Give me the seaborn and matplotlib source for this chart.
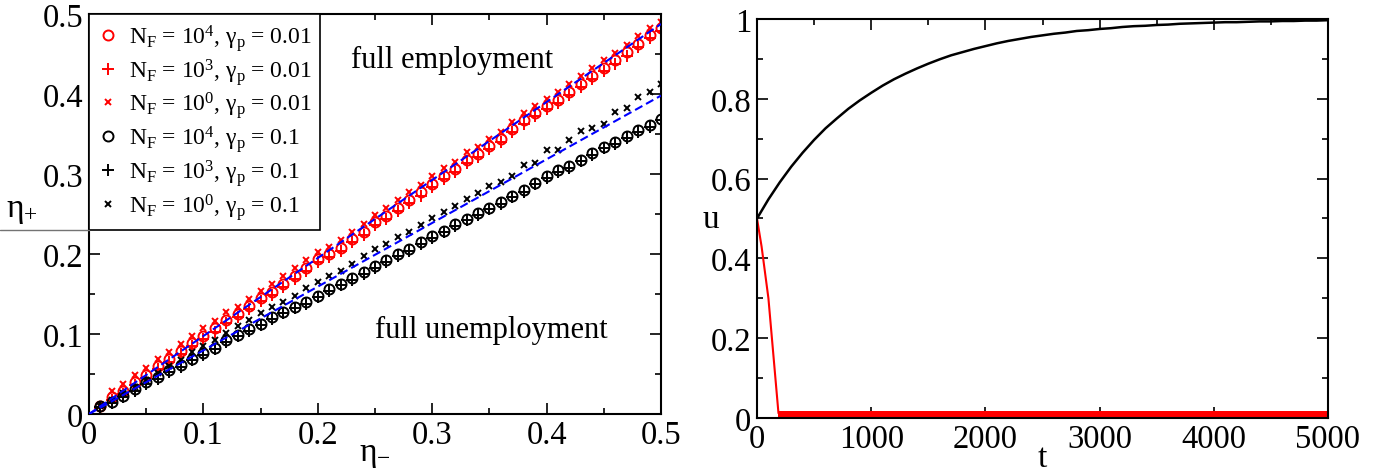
import matplotlib
matplotlib.use("Agg")
import matplotlib.pyplot as plt
import seaborn as sns
from matplotlib.ticker import MultipleLocator, FuncFormatter
from matplotlib.lines import Line2D

# left panel: eta_+ vs eta_-
eta_minus = [0.01, 0.02, 0.03, 0.04, 0.05, 0.06, 0.07, 0.08, 0.09, 0.10,
             0.11, 0.12, 0.13, 0.14, 0.15, 0.16, 0.17, 0.18, 0.19, 0.20,
             0.21, 0.22, 0.23, 0.24, 0.25, 0.26, 0.27, 0.28, 0.29, 0.30,
             0.31, 0.32, 0.33, 0.34, 0.35, 0.36, 0.37, 0.38, 0.39, 0.40,
             0.41, 0.42, 0.43, 0.44, 0.45, 0.46, 0.47, 0.48, 0.49, 0.50]

red_circle = [0.010, 0.021, 0.029, 0.040, 0.049, 0.060, 0.069, 0.079, 0.089, 0.098,
              0.107, 0.118, 0.125, 0.135, 0.145, 0.153, 0.163, 0.173, 0.183, 0.194,
              0.200, 0.208, 0.219, 0.228, 0.240, 0.248, 0.258, 0.268, 0.277, 0.288,
              0.298, 0.306, 0.318, 0.325, 0.335, 0.344, 0.356, 0.367, 0.376, 0.385,
              0.393, 0.403, 0.413, 0.423, 0.433, 0.442, 0.452, 0.463, 0.474, 0.482]
red_plus = [0.007, 0.017, 0.025, 0.036, 0.045, 0.056, 0.065, 0.075, 0.085, 0.094,
            0.103, 0.114, 0.121, 0.131, 0.141, 0.149, 0.159, 0.169, 0.179, 0.190,
            0.196, 0.204, 0.215, 0.224, 0.236, 0.244, 0.254, 0.264, 0.273, 0.284,
            0.294, 0.302, 0.314, 0.321, 0.331, 0.340, 0.352, 0.363, 0.372, 0.381,
            0.389, 0.399, 0.409, 0.419, 0.429, 0.438, 0.448, 0.459, 0.470, 0.479]
red_cross = [0.011, 0.029, 0.038, 0.049, 0.058, 0.069, 0.078, 0.088, 0.098, 0.107,
             0.116, 0.127, 0.134, 0.144, 0.154, 0.162, 0.172, 0.182, 0.192, 0.203,
             0.209, 0.217, 0.228, 0.237, 0.249, 0.257, 0.267, 0.277, 0.286, 0.297,
             0.307, 0.315, 0.327, 0.334, 0.344, 0.353, 0.365, 0.376, 0.385, 0.394,
             0.402, 0.412, 0.422, 0.432, 0.442, 0.451, 0.461, 0.472, 0.483, 0.490]

black_circle = [0.010, 0.015, 0.023, 0.031, 0.040, 0.046, 0.055, 0.061, 0.069, 0.076,
                0.083, 0.092, 0.099, 0.106, 0.113, 0.121, 0.128, 0.134, 0.140, 0.148,
                0.156, 0.163, 0.170, 0.177, 0.185, 0.192, 0.200, 0.206, 0.215, 0.222,
                0.229, 0.237, 0.244, 0.251, 0.258, 0.265, 0.273, 0.280, 0.289, 0.297,
                0.305, 0.310, 0.318, 0.326, 0.334, 0.340, 0.347, 0.355, 0.361, 0.369]
black_plus = [0.009, 0.014, 0.021, 0.029, 0.038, 0.044, 0.053, 0.059, 0.067, 0.074,
              0.081, 0.090, 0.097, 0.104, 0.111, 0.119, 0.126, 0.132, 0.138, 0.146,
              0.154, 0.161, 0.168, 0.175, 0.183, 0.190, 0.198, 0.204, 0.213, 0.220,
              0.227, 0.235, 0.242, 0.249, 0.256, 0.263, 0.271, 0.278, 0.287, 0.295,
              0.303, 0.308, 0.316, 0.324, 0.332, 0.338, 0.345, 0.353, 0.359, 0.367]
black_cross = [0.010, 0.018, 0.026, 0.034, 0.043, 0.051, 0.060, 0.068, 0.077, 0.085,
               0.093, 0.101, 0.110, 0.118, 0.126, 0.134, 0.140, 0.148, 0.157, 0.165,
               0.172, 0.179, 0.188, 0.197, 0.206, 0.212, 0.221, 0.228, 0.236, 0.245,
               0.252, 0.260, 0.269, 0.276, 0.285, 0.290, 0.298, 0.311, 0.314, 0.330,
               0.330, 0.343, 0.354, 0.358, 0.363, 0.378, 0.382, 0.396, 0.402, 0.413]

# dashed guide lines (end points)
guide_x = [0.0, 0.5]
guide_upper = [0.0, 0.4875]
guide_lower = [0.0, 0.398]

labels = [r"$\mathrm{N_F}$ = 10$^4$, $\gamma_\mathrm{p}$ = 0.01",
          r"$\mathrm{N_F}$ = 10$^3$, $\gamma_\mathrm{p}$ = 0.01",
          r"$\mathrm{N_F}$ = 10$^0$, $\gamma_\mathrm{p}$ = 0.01",
          r"$\mathrm{N_F}$ = 10$^4$, $\gamma_\mathrm{p}$ = 0.1",
          r"$\mathrm{N_F}$ = 10$^3$, $\gamma_\mathrm{p}$ = 0.1",
          r"$\mathrm{N_F}$ = 10$^0$, $\gamma_\mathrm{p}$ = 0.1"]

# right panel: u(t)
t_black = [0, 100, 200, 300, 400, 500, 600, 700, 800, 900,
           1000, 1100, 1200, 1300, 1400, 1500, 1600, 1700, 1800, 1900,
           2000, 2100, 2200, 2300, 2400, 2500, 2600, 2700, 2800, 2900,
           3000, 3100, 3200, 3300, 3400, 3500, 3600, 3700, 3800, 3900,
           4000, 4100, 4200, 4300, 4400, 4500, 4600, 4700, 4800, 4900, 5000]
u_black = [0.500, 0.548, 0.591, 0.630, 0.665, 0.697, 0.726, 0.751, 0.775, 0.796,
           0.815, 0.833, 0.849, 0.863, 0.876, 0.888, 0.899, 0.909, 0.917, 0.925,
           0.932, 0.939, 0.945, 0.950, 0.955, 0.959, 0.963, 0.966, 0.970, 0.972,
           0.975, 0.977, 0.980, 0.982, 0.983, 0.985, 0.986, 0.988, 0.989, 0.990,
           0.991, 0.992, 0.992, 0.993, 0.994, 0.994, 0.995, 0.995, 0.996, 0.996, 0.997]
t_red = [0, 40, 100, 188]
u_red = [0.500, 0.430, 0.300, 0.012]
t_band = [188, 5000]
band_lo = [0.002, 0.002]
band_hi = [0.017, 0.017]

sns.set_theme(style="ticks")
plt.rcParams["font.family"] = ["Liberation Serif", "DejaVu Serif"]
plt.rcParams["mathtext.fontset"] = "custom"
plt.rcParams["mathtext.rm"] = "Liberation Serif"
plt.rcParams["mathtext.it"] = "Liberation Serif"
plt.rcParams["mathtext.bf"] = "Liberation Serif:bold"
plt.rcParams["text.color"] = "black"
plt.rcParams["axes.labelcolor"] = "black"

fig = plt.figure(figsize=(13.91, 4.77), dpi=100)
ax1 = fig.add_axes([89 / 1391, 62 / 477, 572 / 1391, 400 / 477])
ax2 = fig.add_axes([757 / 1391, 58 / 477, 571 / 1391, 399 / 477])

series = [(red_circle, "o", "red", 7.2), (red_plus, "+", "red", 8.0), (red_cross, "x", "red", 5.0),
          (black_circle, "o", "black", 7.2), (black_plus, "+", "black", 8.0), (black_cross, "x", "black", 5.0)]
for (vals, mk, col, ms), lab in zip(series, labels):
    sns.lineplot(x=eta_minus, y=vals, ax=ax1, marker=mk, linestyle="", color=col,
                 markerfacecolor="none", markeredgecolor=col, markeredgewidth=1.4,
                 markersize=ms, label=lab)

sns.lineplot(x=guide_x, y=guide_upper, ax=ax1, color="blue", lw=1.5,
             linestyle=(0, (4, 2)), zorder=5)
sns.lineplot(x=guide_x, y=guide_lower, ax=ax1, color="blue", lw=1.5,
             linestyle=(0, (4, 2)), zorder=5)

ax1.text(0.229, 0.434, "full employment", fontsize=22, ha="left", va="baseline")
ax1.text(0.250, 0.096, "full unemployment", fontsize=22, ha="left", va="baseline")

ax1.set_xlim(0, 0.5)
ax1.set_ylim(0, 0.5)
for ax in (ax1, ax2):
    ax.tick_params(which="both", direction="in", top=True, right=True, width=1.2,
                   labelsize=23.5, pad=4, colors="black")
    ax.tick_params(which="major", length=8)
    ax.tick_params(which="minor", length=4)
    for sp in ax.spines.values():
        sp.set_linewidth(1.5)
        sp.set_color("black")
    ax.xaxis.set_major_formatter(FuncFormatter(lambda v, p: f"{v:g}"))
    ax.yaxis.set_major_formatter(FuncFormatter(lambda v, p: f"{v:g}"))

ax1.xaxis.set_major_locator(MultipleLocator(0.1))
ax1.xaxis.set_minor_locator(MultipleLocator(0.05))
ax1.yaxis.set_major_locator(MultipleLocator(0.1))
ax1.yaxis.set_minor_locator(MultipleLocator(0.05))
ax1.set_xlabel(r"$\eta_{-}$", fontsize=24, labelpad=-8)
ax1.set_ylabel(r"$\eta_{+}$", fontsize=24, rotation=0, ha="center", va="center")
ax1.yaxis.set_label_coords(-0.117, 0.51)

leg = ax1.legend(loc="upper left", bbox_to_anchor=(0, 1), borderaxespad=0, fontsize=17,
                 frameon=True, fancybox=False, framealpha=1, edgecolor="black",
                 handlelength=0.95, handletextpad=0.42, labelspacing=0.12, borderpad=0.33,
                 numpoints=1)
leg.get_frame().set_linewidth(1.2)
fig.add_artist(Line2D([0, 89 / 1391], [1 - 231 / 477, 1 - 231 / 477],
                      transform=fig.transFigure, color="0.45", lw=1))

# right panel
sns.lineplot(x=t_black, y=u_black, ax=ax2, color="black", lw=1.8)
sns.lineplot(x=t_red, y=u_red, ax=ax2, color="red", lw=1.5)
ax2.fill_between(t_band, band_lo, band_hi, color="red", lw=0)
ax2.set_xlim(0, 5000)
ax2.set_ylim(0, 1)
ax2.xaxis.set_major_locator(MultipleLocator(1000))
ax2.xaxis.set_minor_locator(MultipleLocator(500))
ax2.yaxis.set_major_locator(MultipleLocator(0.2))
ax2.yaxis.set_minor_locator(MultipleLocator(0.1))
ax2.set_xlabel("t", fontsize=24, labelpad=-8)
ax2.set_ylabel("u", fontsize=24, rotation=0, ha="center", va="center")
ax2.yaxis.set_label_coords(-0.08, 0.5)

fig.savefig("out.png", dpi=100)
